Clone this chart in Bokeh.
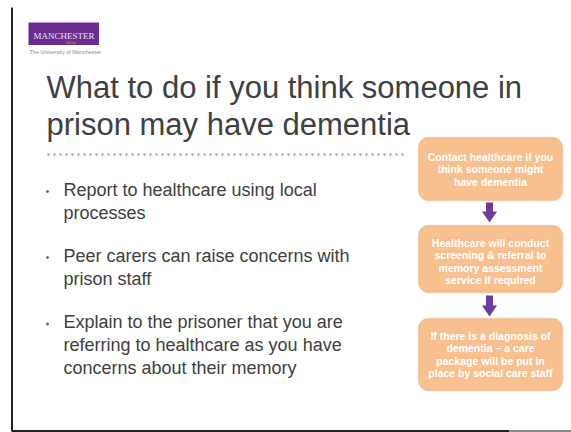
from bokeh.plotting import figure
from bokeh.models import Range1d, BoxAnnotation
from bokeh.core.properties import value
from bokeh.embed import file_html
from bokeh.resources import INLINE

# ---- content ----
logo_name = "MANCHESTER"
logo_year = "1824"
logo_tagline = "The University of Manchester"
title_lines = ["What to do if you think someone in", "prison may have dementia"]
bullets = [
    ["Report to healthcare using local", "processes"],
    ["Peer carers can raise concerns with", "prison staff"],
    ["Explain to the prisoner that you are", "referring to healthcare as you have", "concerns about their memory"],
]
steps = [
    ["Contact healthcare if you", "think someone might", "have dementia"],
    ["Healthcare will conduct", "screening & referral to", "memory assessment", "service if required"],
    ["If there is a diagnosis of", "dementia \u2013 a care", "package will be put in", "place by social care staff"],
]

# ---- layout (screen-pixel coordinates of the page) ----
title_x = 46
title_y = [87, 124]
bullet_dot_x = 47
bullet_text_x = 63
bullet_first_baseline = [189, 255, 321.5]
bullet_line_step = 23
box_left, box_right = 418, 562
box_tops = [137, 225, 318]
box_bottoms = [200, 292, 390]
box_text_first = [156, 242, 335]
box_text_step = 12.6
arrow_x = 489
arrows = [(202, 211, 222), (295, 305, 316)]

FONT = value("Liberation Sans")
TXT = "#404040"

p = figure(width=571, height=432, x_range=Range1d(0, 571), y_range=Range1d(432, 0),
           output_backend="svg", toolbar_location=None, min_border=0,
           x_axis_type=None, y_axis_type=None)
p.outline_line_color = None
p.background_fill_color = "white"
p.border_fill_color = "white"

# frame lines of the slide
p.line(x=[11.5, 11.5], y=[7, 431], line_color="#222222", line_width=2)
p.line(x=[11.5, 509], y=[430.5, 430.5], line_color="#222222", line_width=2)
p.line(x=[509, 571], y=[430.5, 430.5], line_color="#8a8a8a", line_width=2)

# logo
p.quad(left=[28], right=[98.5], top=[22], bottom=[44.5], fill_color="#6b2c91", line_color=None)
p.text(x=[63.5], y=[35], text=[logo_name], text_font=value("Liberation Serif"),
       text_font_size=value("9px"), text_color="#ece2f4", text_align="center",
       text_baseline="alphabetic")
p.text(x=[70], y=[41.5], text=[logo_year], text_font=value("Liberation Serif"),
       text_font_size=value("5px"), text_color="#d9a62e", text_align="center",
       text_baseline="alphabetic")
p.text(x=[29], y=[51], text=[logo_tagline], text_font=FONT,
       text_font_size=value("5.5px"), text_color="#8a8a8a", text_align="left",
       text_baseline="alphabetic")

# title
p.text(x=[title_x] * len(title_lines), y=title_y, text=title_lines, text_font=FONT,
       text_font_size=value("31px"), text_color=TXT, text_align="left",
       text_baseline="alphabetic")

# dotted separator
p.line(x=[47, 405], y=[154, 154], line_color="#b07cc0", line_width=2, line_dash="2 4")

# bullets
bx, by, bt = [], [], []
for first, lines in zip(bullet_first_baseline, bullets):
    for i, ln in enumerate(lines):
        bx.append(bullet_text_x)
        by.append(first + i * bullet_line_step)
        bt.append(ln)
p.text(x=bx, y=by, text=bt, text_font=FONT, text_font_size=value("18px"),
       text_color=TXT, text_align="left", text_baseline="alphabetic")
p.scatter(x=[bullet_dot_x] * len(bullets), y=[b + 2 for b in bullet_first_baseline],
          size=2, marker="circle", color="#666666")

# flow boxes
for top, bottom in zip(box_tops, box_bottoms):
    box = BoxAnnotation(left=box_left, right=box_right, top=top, bottom=bottom,
                        border_radius=10, fill_color="#f9c08f", fill_alpha=1.0,
                        line_color="#d99c58", line_width=1.5, level="underlay")
    p.add_layout(box)

sx, sy, st = [], [], []
cx = (box_left + box_right) / 2
for first, lines in zip(box_text_first, steps):
    for i, ln in enumerate(lines):
        sx.append(cx)
        sy.append(first + i * box_text_step)
        st.append(ln)
p.text(x=sx, y=sy, text=st, text_font=FONT, text_font_size=value("10.5px"),
       text_font_style="bold", text_color="white", text_align="center",
       text_baseline="alphabetic")

# arrows
ARROW = "#6f3a9e"
for s_top, h_top, tip in arrows:
    p.quad(left=[arrow_x - 3.5], right=[arrow_x + 3.5], top=[s_top], bottom=[h_top + 0.5],
           fill_color=ARROW, line_color=None)
    p.patch(x=[arrow_x - 7.5, arrow_x + 7.5, arrow_x], y=[h_top, h_top, tip],
            fill_color=ARROW, line_color=None)

open("out.html", "w").write(file_html(p, INLINE))
